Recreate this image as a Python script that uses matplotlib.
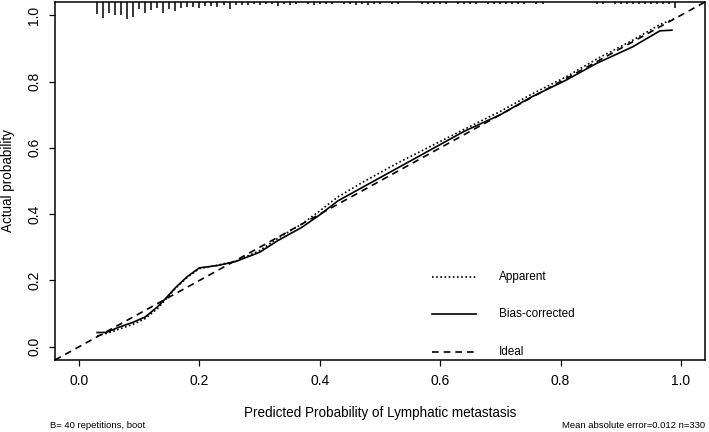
import numpy as np
import matplotlib
matplotlib.use("Agg")
import matplotlib.pyplot as plt

plt.rcParams['font.family'] = ['Liberation Sans', 'DejaVu Sans']

# ---- data ----
pred_bias = [0.03, 0.045, 0.065, 0.09, 0.11, 0.13, 0.145, 0.16, 0.18, 0.20, 0.23, 0.26,
             0.30, 0.33, 0.37, 0.40, 0.43, 0.47, 0.50, 0.53, 0.59, 0.64, 0.70, 0.75,
             0.81, 0.86, 0.92, 0.965, 0.985]
act_bias = [0.043, 0.043, 0.058, 0.074, 0.09, 0.12, 0.148, 0.178, 0.212, 0.238, 0.245, 0.257,
            0.285, 0.32, 0.36, 0.398, 0.44, 0.48, 0.51, 0.54, 0.60, 0.65, 0.70, 0.752,
            0.805, 0.855, 0.905, 0.953, 0.955]

pred_app = [0.03, 0.045, 0.065, 0.09, 0.11, 0.13, 0.145, 0.16, 0.18, 0.20, 0.23, 0.26,
            0.30, 0.33, 0.37, 0.40, 0.43, 0.47, 0.50, 0.53, 0.59, 0.64, 0.70, 0.75,
            0.81, 0.86, 0.92, 0.965, 0.99]
act_app = [0.033, 0.04, 0.052, 0.068, 0.085, 0.115, 0.145, 0.176, 0.21, 0.236, 0.246, 0.258,
           0.29, 0.327, 0.37, 0.41, 0.452, 0.495, 0.525, 0.555, 0.61, 0.656, 0.71, 0.76,
           0.815, 0.868, 0.925, 0.972, 0.99]

rug_x = [round(0.03 + 0.01 * i, 2) for i in range(97)]  # 0.03 .. 0.99
rug_freq = [12, 15.6, 10.6, 13.3, 13.3, 17.3, 14.6, 6.6, 10.6, 8, 5.6, 10.6, 6.6, 9, 5.6,
            4.6, 4.6, 5.6, 4, 4, 4.6, 3.3, 6.6, 3.3, 2.6,
            2.5, 2, 3, 2, 2, 3.5, 2, 3, 2, 0, 2, 3, 2, 2, 2, 0, 2, 2, 3, 2, 3, 2, 2, 0, 2,
            1.5, 0, 0, 0, 2, 2, 2, 2, 1.5, 0, 2, 2, 2, 2, 0, 2, 2, 1.5, 2, 1.5, 2, 1.5, 0,
            1.5, 1.5, 0, 0, 0, 0, 0, 0, 0, 0, 1.5, 1.5, 0, 2, 1.5, 2, 2, 1.5, 2, 2, 2, 2, 2, 6]
rug_x = rug_x[:len(rug_freq)]

ticks = [0.0, 0.2, 0.4, 0.6, 0.8, 1.0]
tick_labels = ["0.0", "0.2", "0.4", "0.6", "0.8", "1.0"]

# ---- figure ----
W, H = 709, 432
fig = plt.figure(figsize=(W / 100, H / 100), dpi=100)
L, R, T, B = 55, 705, 2, 360
ax = fig.add_axes([L / W, 1 - B / H, (R - L) / W, (B - T) / H])
ax.set_xlim(-0.04, 1.04)
ax.set_ylim(-0.04, 1.04)

LW = 1.2
# ideal
ax.plot([-0.04, 1.04], [-0.04, 1.04], color='black', lw=LW, ls=(0, (4, 3)))
# apparent
ax.plot(pred_app, act_app, color='black', lw=LW, ls=(0, (1, 1.5)))
# bias corrected
ax.plot(pred_bias, act_bias, color='black', lw=LW, ls='-')

# rug at top (lengths in pixels -> data units)
px_per_unit_y = (B - T) / 1.08
for xv, f in zip(rug_x, rug_freq):
    if f > 0:
        ax.vlines(xv, 1.04 - f / px_per_unit_y, 1.04, color='black', lw=1.1)

# axes styling
for s in ax.spines.values():
    s.set_linewidth(1.1)
ax.set_xticks(ticks)
ax.set_xticklabels(tick_labels, fontsize=10)
ax.set_yticks(ticks)
ax.set_yticklabels(tick_labels, fontsize=10, rotation=90, va='center')
ax.tick_params(direction='out', length=4.5, width=0.9, pad=5.5)

ax.set_xlabel("Predicted Probability of Lymphatic metastasis", fontsize=9.75, labelpad=13)
ax.set_ylabel("Actual probability", fontsize=9.75, labelpad=9)

# legend (manual, R-style)
leg_items = [("Apparent", (0, (1, 1.5))), ("Bias-corrected", '-'), ("Ideal", (0, (4, 3)))]
leg_y = [0.211, 0.099, -0.015]
for (lab, ls), yy in zip(leg_items, leg_y):
    ax.plot([0.587, 0.660], [yy, yy], color='black', lw=LW, ls=ls)
    ax.text(0.697, yy, lab, fontsize=8.5, va='center', ha='left')

fig.text(50 / W, 1 - 425 / H, "B= 40 repetitions, boot", fontsize=6.8, ha='left', va='center')
fig.text(705 / W, 1 - 425 / H, "Mean absolute error=0.012 n=330", fontsize=6.8, ha='right', va='center')

fig.savefig("out.png", dpi=100)
